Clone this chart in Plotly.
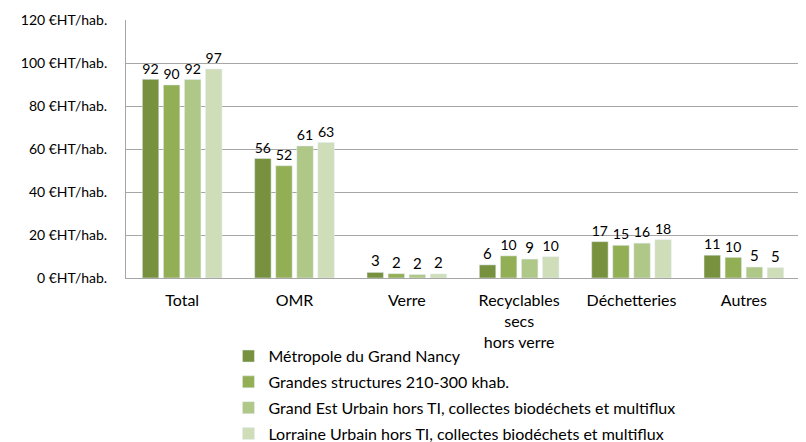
import plotly.graph_objects as go

categories = ["Total", "OMR", "Verre", "Recyclables<br>secs<br>hors verre", "Déchetteries", "Autres"]
series_names = [
    "Métropole du Grand Nancy",
    "Grandes structures 210-300 khab.",
    "Grand Est Urbain hors TI, collectes biodéchets et multiflux",
    "Lorraine Urbain hors TI, collectes biodéchets et multiflux",
]
metropole = [92.4, 55.6, 2.6, 6.1, 16.9, 10.6]
grandes = [89.8, 52.2, 2.0, 10.3, 15.2, 9.6]
grand_est = [92.3, 61.4, 1.6, 8.8, 16.2, 5.1]
lorraine = [97.2, 63.0, 1.9, 9.9, 17.8, 4.8]
series_values = [metropole, grandes, grand_est, lorraine]
colors = ["#77913F", "#93AF55", "#AFC787", "#CFDDB8"]
tick_vals = [0, 20, 40, 60, 80, 100, 120]
tick_text = [f"{v} €HT/hab." for v in tick_vals]

FONT = "Lato"
fig = go.Figure()
for name, vals, col in zip(series_names, series_values, colors):
    fig.add_trace(go.Bar(
        x=categories, y=vals, name=name, marker_color=col,
        text=[f"{v:.0f}" for v in vals], textposition="outside",
        textfont=dict(size=15, color="#000000", family=FONT),
        cliponaxis=False, legendgroup=name,
    ))

# page body has an 8px default margin: figure is 8px smaller, offsets compensated
fig.update_layout(
    width=798, height=434,
    margin=dict(l=118, r=6, t=12, b=164, autoexpand=False),
    barmode="group", bargap=0.25, bargroupgap=0.22,
    plot_bgcolor="white", paper_bgcolor="white",
    font=dict(family=FONT, size=15, color="#000000"),
    showlegend=True,
    legend=dict(
        x=0.152, y=-0.237, xanchor="left", yanchor="top",
        orientation="v", traceorder="grouped", tracegroupgap=2,
        font=dict(size=16, family=FONT), itemwidth=30,
        bgcolor="rgba(0,0,0,0)",
    ),
)
fig.update_yaxes(
    range=[0, 120], tickvals=tick_vals, ticktext=tick_text,
    showgrid=True, gridcolor="#A6A6A6", gridwidth=1,
    showline=True, linecolor="#A6A6A6", linewidth=1,
    zeroline=False, ticks="", ticklabelstandoff=15,
    tickfont=dict(size=14, family=FONT),
)
fig.update_xaxes(
    showline=True, linecolor="#A6A6A6", linewidth=1,
    ticks="", ticklabelstandoff=8, tickfont=dict(size=16, family=FONT),
)
fig.write_html("out.html")
